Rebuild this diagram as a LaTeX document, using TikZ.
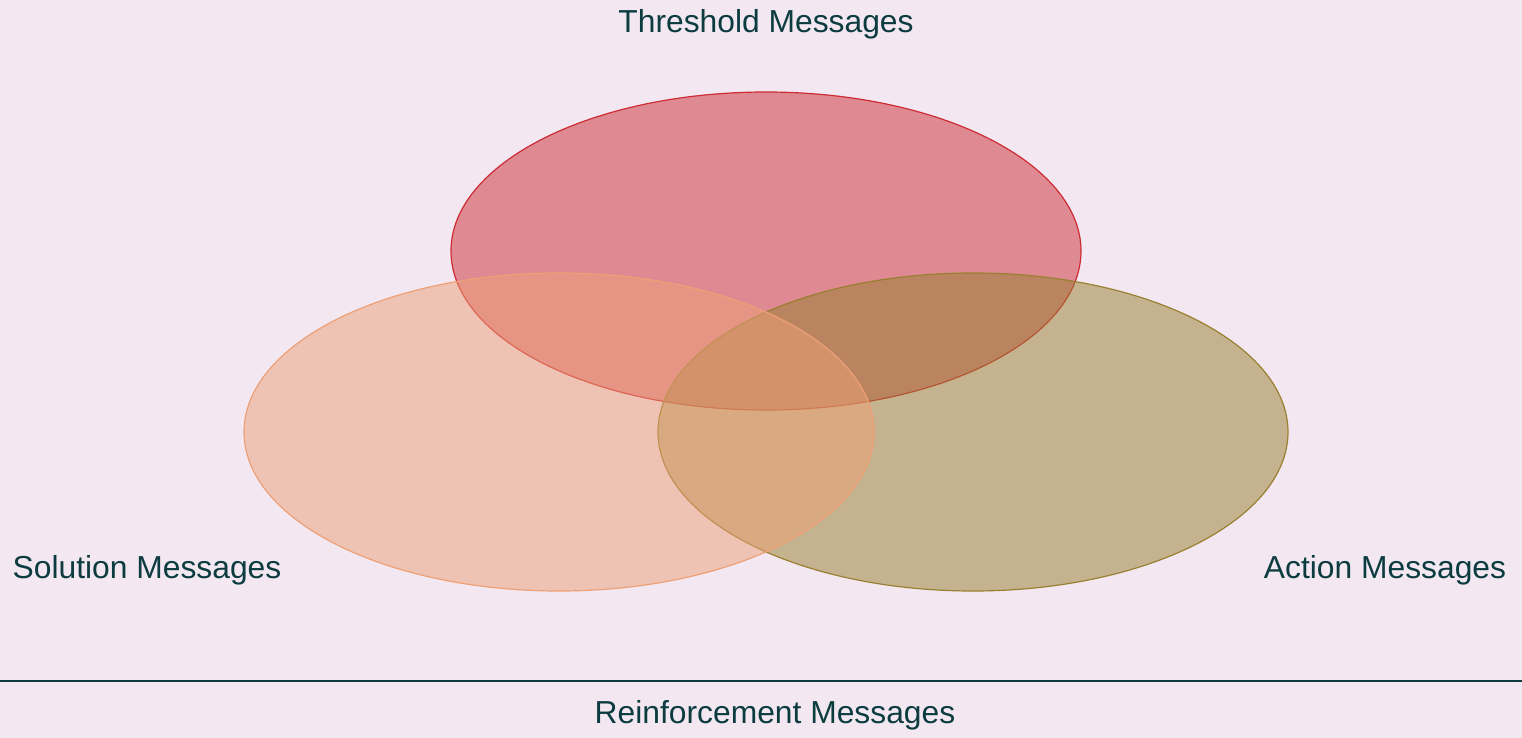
\documentclass[tikz,border=0pt]{standalone}
\usepackage{fontspec}
\setmainfont{Liberation Sans}
\usetikzlibrary{shapes.geometric}
\definecolor{bg}{RGB}{243,232,242}
\definecolor{txt}{RGB}{12,60,64}
\definecolor{cthr}{RGB}{205,44,52}
\definecolor{csol}{RGB}{237,160,118}
\definecolor{cact}{RGB}{153,128,48}
\tikzset{
  setell/.style={ellipse, inner sep=0pt, minimum width=315pt, minimum height=159pt,
    draw=#1, fill=#1, fill opacity=0.5, draw opacity=1, line width=0.6pt},
  lbl/.style={text=txt, font=\fontsize{15.9}{19}\selectfont, inner sep=0pt, anchor=base}
}
\begin{document}
\begin{tikzpicture}[x=0.5pt,y=-0.5pt]
\fill[bg] (0,0) rectangle (1522,738);
\useasboundingbox (0,0) rectangle (1522,738);
\node[setell=cthr] (thr) at (766,251) {};
\node[setell=cact] (act) at (973,432) {};
\node[setell=csol] (sol) at (559,432) {};
\node[lbl] (tthr) at (766,33) {Threshold Messages};
\node[lbl] (tsol) at (147,578) {Solution Messages};
\node[lbl] (tact) at (1385,578) {Action Messages};
\node[lbl] (trei) at (775,723) {Reinforcement Messages};
\coordinate (l0) at (0,681);
\coordinate (l1) at (1522,681);
\draw[txt, line width=0.75pt] (l0) -- (l1);
\end{tikzpicture}
\end{document}
